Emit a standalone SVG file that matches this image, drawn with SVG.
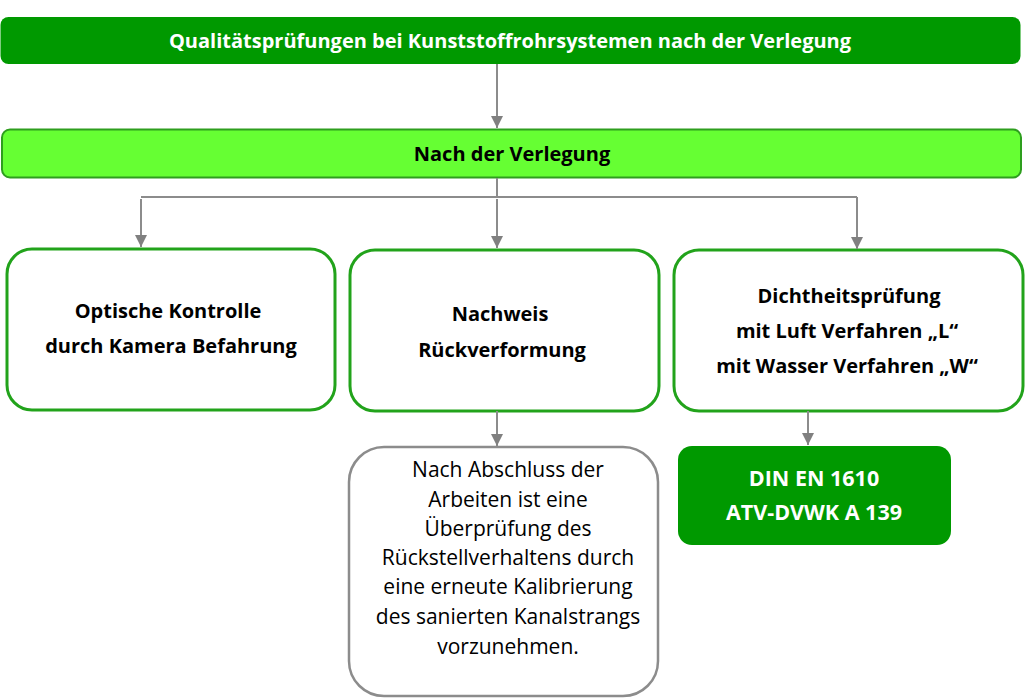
<svg xmlns="http://www.w3.org/2000/svg" width="1026" height="698" viewBox="0 0 1026 698">
<defs>
<marker id="ah" viewBox="0 0 10 10" refX="10" refY="5" markerWidth="12" markerHeight="12" markerUnits="userSpaceOnUse" orient="auto">
<path d="M0,0 L10,5 L0,10 z" fill="#808080"/>
</marker>
<style>
.t{font-family:"Open Sans",Lato,"Liberation Sans",sans-serif;text-anchor:middle}
.b{font-weight:bold;font-size:20px;fill:#000}
.w{font-weight:bold;font-size:21.5px;fill:#fff}
.h{font-weight:bold;font-size:20px;fill:#fff}
.r{font-size:21px;fill:#000}
.gb{fill:#fff;stroke:#22A31B;stroke-width:3}
.conn{fill:none;stroke:#8C8C8C;stroke-width:2}
</style>
</defs>
<rect width="1026" height="698" fill="#fff"/>
<g id="n-title">
<rect x="0.5" y="17" width="1020" height="47" rx="8" fill="#009900"/>
<text class="t h" x="510" y="48">Qualitätsprüfungen bei Kunststoffrohrsystemen nach der Verlegung</text>
</g>
<g id="n-nach">
<rect x="2" y="129.5" width="1019" height="48" rx="8" fill="#66FF33" stroke="#2E9E1E" stroke-width="2"/>
<text class="t b" x="512" y="161">Nach der Verlegung</text>
</g>
<g id="n-optisch">
<rect x="7" y="249" width="328" height="161" rx="25" class="gb"/>
<text class="t b" x="168" y="318">Optische Kontrolle</text>
<text class="t b" x="171" y="353">durch Kamera Befahrung</text>
</g>
<g id="n-nachweis">
<rect x="350" y="250" width="309" height="161" rx="25" class="gb"/>
<text class="t b" x="500" y="321">Nachweis</text>
<text class="t b" x="502" y="357">Rückverformung</text>
</g>
<g id="n-dicht">
<rect x="674" y="250" width="349" height="161" rx="25" class="gb"/>
<text class="t b" x="849" y="303">Dichtheitsprüfung</text>
<text class="t b" x="847" y="338">mit Luft Verfahren „L“</text>
<text class="t b" x="847" y="373">mit Wasser Verfahren „W“</text>
</g>
<g id="n-text">
<rect x="349" y="447" width="309" height="249" rx="35" fill="#fff" stroke="#8C8C8C" stroke-width="2.5"/>
<text class="t r" x="508" y="477">Nach Abschluss der</text>
<text class="t r" x="508" y="507">Arbeiten ist eine</text>
<text class="t r" x="508" y="536">Überprüfung des</text>
<text class="t r" x="508" y="565">Rückstellverhaltens durch</text>
<text class="t r" x="508" y="594">eine erneute Kalibrierung</text>
<text class="t r" x="508" y="624">des sanierten Kanalstrangs</text>
<text class="t r" x="508" y="654">vorzunehmen.</text>
</g>
<g id="n-din">
<rect x="678" y="446" width="273" height="99" rx="14" fill="#009900"/>
<text class="t w" x="814" y="486">DIN EN 1610</text>
<text class="t w" x="814" y="520">ATV-DVWK A 139</text>
</g>
<g id="connectors" class="conn">
<path d="M497,64 V128" marker-end="url(#ah)"/>
<path d="M497,178 V197"/>
<path d="M141,197 H857"/>
<path d="M141,199 V247" marker-end="url(#ah)"/>
<path d="M497,199 V248" marker-end="url(#ah)"/>
<path d="M857,197 V249" marker-end="url(#ah)"/>
<path d="M497,411 V446" marker-end="url(#ah)"/>
<path d="M808,411 V445" marker-end="url(#ah)"/>
</g>
</svg>
